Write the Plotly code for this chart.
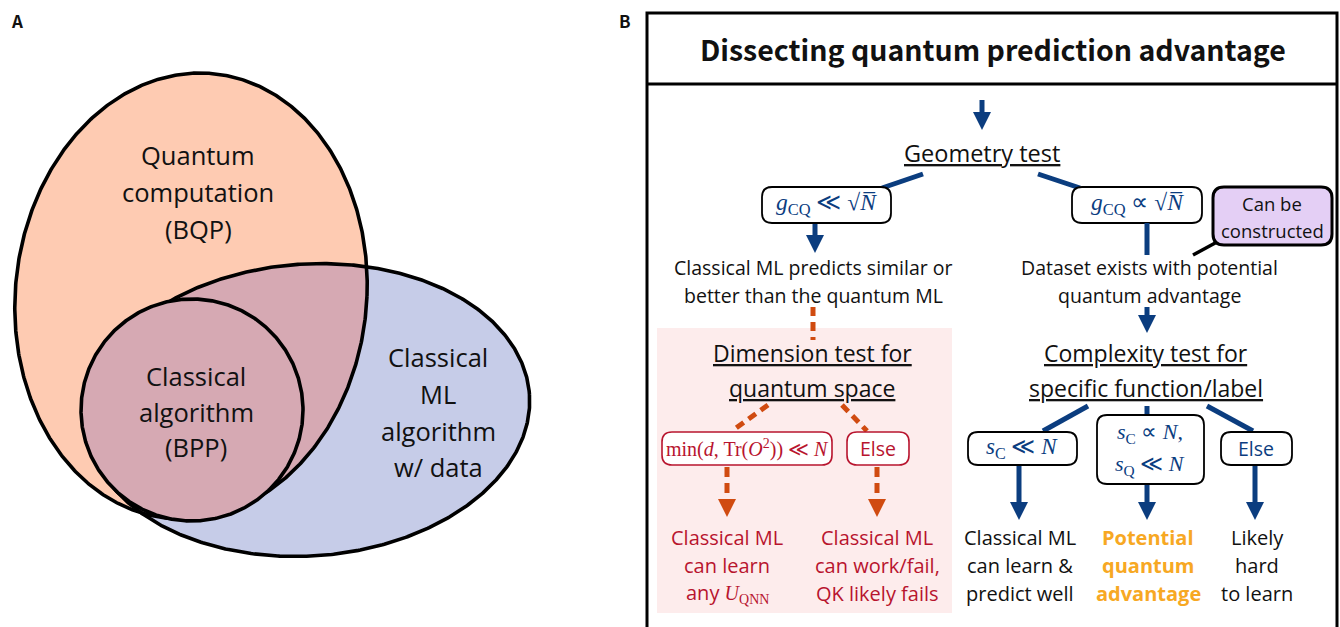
import numpy as np
import plotly.graph_objects as go

W, H = 1340, 627
BODY = "Open Sans"
MATH = "Liberation Serif"
TITLE_FONT = "Noto Sans CJK JP"

NAVY = "#0B3D7F"
RED = "#B8142E"
DASHC = "#D04B10"
GOLD = "#F7A823"
PINK = "#FDECEC"
PURPLE = "#E4CFF5"
PEACH = "#FECBB2"
BLUE = "#C6CCE8"
MAUVE = "#D6A9B3"
INK = "#111111"

# ---------------- content (text) ----------------
panel_labels = ["A", "B"]
title_text = "Dissecting quantum prediction advantage"

venn_quantum = ["Quantum", "computation", "(BQP)"]
venn_classical = ["Classical", "algorithm", "(BPP)"]
venn_ml = ["Classical", "ML", "algorithm", "w/ data"]

geometry_title = ["Geometry test"]
geom_left_cond = "<i>g</i><sub>CQ</sub> ≪ √<i>N̅</i>"
geom_right_cond = "<i>g</i><sub>CQ</sub> ∝ √<i>N̅</i>"
constructed_note = ["Can be", "constructed"]
geom_left_result = ["Classical ML predicts similar or", "better than the quantum ML"]
geom_right_result = ["Dataset exists with potential", "quantum advantage"]

dimension_title = ["Dimension test for", "quantum space"]
dim_left_cond = "min(<i>d</i>, Tr(<i>O</i><sup>2</sup>)) ≪ <i>N</i>"
dim_right_cond = "Else"
dim_left_result = ["Classical ML", "can learn",
                   "any <span style='font-family:Liberation Serif'><i>U</i><sub>QNN</sub></span>"]
dim_right_result = ["Classical ML", "can work/fail,", "QK likely fails"]

complexity_title = ["Complexity test for", "specific function/label"]
cx_conds = ["<i>s</i><sub>C</sub> ≪ <i>N</i>",
            "<i>s</i><sub>C</sub> ∝ <i>N</i>,",
            "Else"]
cx_cond_mid2 = "<i>s</i><sub>Q</sub> ≪ <i>N</i>"
cx_results = [["Classical ML", "can learn &", "predict well"],
              ["Potential", "quantum", "advantage"],
              ["Likely", "hard", "to learn"]]

# ---------------- geometry of the diagram ----------------
orange_ell = dict(cx=191, cy=296, a=176, b=223, k=-0.04)
blue_ell = dict(cx=308, cy=410, a=222, b=146, phi=-4.0)
circle = dict(cx=192, cy=410, r=111)

t = np.linspace(0, 2 * np.pi, 721)


def orange_pts(tt):
    e = orange_ell
    return (e["cx"] + e["a"] * np.cos(tt) + e["k"] * e["b"] * np.sin(tt),
            e["cy"] + e["b"] * np.sin(tt))


def orange_in(x, y):
    e = orange_ell
    s = (y - e["cy"]) / e["b"]
    c = (x - e["cx"] - e["k"] * (y - e["cy"])) / e["a"]
    return c * c + s * s <= 1.0


def blue_pts(tt):
    e = blue_ell
    p = np.radians(e["phi"])
    u, v = e["a"] * np.cos(tt), e["b"] * np.sin(tt)
    return (e["cx"] + u * np.cos(p) - v * np.sin(p),
            e["cy"] + u * np.sin(p) + v * np.cos(p))


def blue_in(x, y):
    e = blue_ell
    p = np.radians(e["phi"])
    dx, dy = x - e["cx"], y - e["cy"]
    u = dx * np.cos(p) + dy * np.sin(p)
    v = -dx * np.sin(p) + dy * np.cos(p)
    return (u / e["a"]) ** 2 + (v / e["b"]) ** 2 <= 1.0


ox, oy = orange_pts(t)
bx, by = blue_pts(t)
cxp = circle["cx"] + circle["r"] * np.cos(t)
cyp = circle["cy"] + circle["r"] * np.sin(t)

# intersection polygon (convex)
m1 = blue_in(ox, oy)
m2 = orange_in(bx, by)
ix = np.concatenate([ox[m1], bx[m2]])
iy = np.concatenate([oy[m1], by[m2]])
ang = np.arctan2(iy - iy.mean(), ix - ix.mean())
order = np.argsort(ang)
ix, iy = ix[order], iy[order]
ix = np.append(ix, ix[0])
iy = np.append(iy, iy[0])

fig = go.Figure()
common = dict(mode="lines", hoverinfo="skip", showlegend=False)
fig.add_trace(go.Scatter(x=ox, y=oy, fill="toself", fillcolor=PEACH, line=dict(width=0), **common))
fig.add_trace(go.Scatter(x=bx, y=by, fill="toself", fillcolor=BLUE, line=dict(width=0), **common))
fig.add_trace(go.Scatter(x=ix, y=iy, fill="toself", fillcolor=MAUVE, line=dict(width=0), **common))
for xx, yy in [(ox, oy), (bx, by)]:
    fig.add_trace(go.Scatter(x=xx, y=yy, line=dict(color="#000000", width=3.6), **common))
fig.add_trace(go.Scatter(x=cxp, y=cyp, fill="toself", fillcolor=MAUVE,
                         line=dict(color="#000000", width=3.6), **common))

shapes = []
annotations = []


def text(x, y, s, size=18, color=INK, family=BODY, bold=False):
    annotations.append(dict(x=x, y=y, xref="x", yref="y", text=s, showarrow=False,
                            xanchor="center", yanchor="middle",
                            font=dict(size=size, color=color, family=family,
                                      weight="bold" if bold else "normal")))


def lines_block(x, ys, lines, **kw):
    for yy, s in zip(ys, lines):
        text(x, yy, s, **kw)


def seg(x0, y0, x1, y1, color=NAVY, width=5, dash=None):
    ln = dict(color=color, width=width)
    if dash:
        ln["dash"] = dash
    shapes.append(dict(type="line", x0=x0, y0=y0, x1=x1, y1=y1, xref="x", yref="y", line=ln))


def arrow(x, y0, ytip, color=NAVY, dash=None, hw=9, hh=18):
    seg(x, y0, x, ytip - hh + 2, color=color, dash=dash)
    shapes.append(dict(type="path", xref="x", yref="y",
                       path=f"M {x-hw},{ytip-hh} L {x+hw},{ytip-hh} L {x},{ytip} Z",
                       fillcolor=color, line=dict(width=0)))


def rrect(x0, y0, x1, y1, r=10, line_color="#000000", width=1.8, fill="#FFFFFF"):
    p = (f"M {x0+r},{y0} L {x1-r},{y0} Q {x1},{y0} {x1},{y0+r} L {x1},{y1-r} "
         f"Q {x1},{y1} {x1-r},{y1} L {x0+r},{y1} Q {x0},{y1} {x0},{y1-r} "
         f"L {x0},{y0+r} Q {x0},{y0} {x0+r},{y0} Z")
    shapes.append(dict(type="path", path=p, xref="x", yref="y", fillcolor=fill,
                       line=dict(color=line_color, width=width)))


# ---------------- panel A texts ----------------
text(17, 20, panel_labels[0], size=17, bold=True, family=TITLE_FONT)
lines_block(198, [155, 192, 229], venn_quantum, size=25.5)
lines_block(196, [376, 412, 447], venn_classical, size=25.5)
lines_block(438, [357, 394, 431, 467], venn_ml, size=25.5)

# ---------------- panel B ----------------
text(625, 20, panel_labels[1], size=17, bold=True, family=TITLE_FONT)
shapes.append(dict(type="path", xref="x", yref="y",
                   path="M 647,640 L 647,13 L 1337,13 L 1337,640",
                   line=dict(color="#000000", width=3)))
seg(647, 84, 1337, 84, color="#000000", width=3)
text(993, 48, title_text, size=28.5, bold=True, family=TITLE_FONT)

# pink background
shapes.append(dict(type="rect", x0=657, y0=328, x1=952, y1=613, xref="x", yref="y",
                   fillcolor=PINK, line=dict(width=0), layer="below"))

# geometry test
arrow(982, 100, 130)
lines_block(982, [153], ["<u>" + geometry_title[0] + "</u>"], size=23.5)
seg(923, 174, 882, 188)
seg(1038, 174, 1080, 188)
rrect(762, 187, 891, 223, r=10)
text(826, 204, geom_left_cond, size=23.5, color=NAVY, family=MATH)
rrect(1072, 187, 1202, 223, r=10)
text(1137, 204, geom_right_cond, size=23.5, color=NAVY, family=MATH)
rrect(1213, 187, 1332, 245, r=11, width=3, fill=PURPLE)
lines_block(1272, [203, 230], constructed_note, size=18.5)
seg(1193, 255, 1217, 242, color="#000000", width=3.5)

arrow(815, 224, 253)
seg(1147, 223, 1147, 255)
lines_block(813, [267, 295], geom_left_result, size=19.5)
lines_block(1149, [267, 295], geom_right_result, size=19.5)

# dimension test (left)
DASH = "9px,6px"
seg(813, 307, 813, 340, color=DASHC, dash=DASH)
lines_block(812, [353, 388], ["<u>" + s + "</u>" for s in dimension_title], size=23)
seg(768, 405, 732, 431, color=DASHC, dash=DASH)
seg(842, 405, 867, 431, color=DASHC, dash=DASH)
rrect(662, 432, 832, 465, r=10, line_color=RED, width=1.6)
text(747, 448, dim_left_cond, size=20, color=RED, family=MATH)
rrect(847, 432, 909, 465, r=10, line_color=RED, width=1.6)
text(878, 448, dim_right_cond, size=19.5, color=RED)
arrow(727, 467, 517, color=DASHC, dash="10px,6px", hw=9, hh=18)
arrow(877, 467, 517, color=DASHC, dash="10px,6px", hw=9, hh=18)
lines_block(727, [537, 565, 593], dim_left_result, size=20, color=RED)
lines_block(877, [537, 565, 593], dim_right_result, size=20, color=RED)

# complexity test (right)
arrow(1147, 307, 333)
lines_block(1146, [353, 388], ["<u>" + s + "</u>" for s in complexity_title], size=23)
seg(1088, 406, 1043, 431)
seg(1147, 406, 1147, 416)
seg(1207, 406, 1253, 431)
rrect(968, 432, 1077, 465, r=10)
text(1022, 448, cx_conds[0], size=23, color=NAVY, family=MATH)
rrect(1097, 415, 1204, 484, r=10)
text(1150, 433, cx_conds[1], size=22, color=NAVY, family=MATH)
text(1150, 465, cx_cond_mid2, size=22, color=NAVY, family=MATH)
rrect(1221, 432, 1292, 465, r=10)
text(1256, 448, cx_conds[2], size=19.5, color=NAVY)
arrow(1019, 466, 520)
arrow(1147, 485, 520)
arrow(1255, 466, 520)
lines_block(1020, [537, 565, 593], cx_results[0], size=20)
lines_block(1148, [537, 565, 593], cx_results[1], size=20, color=GOLD, bold=True)
lines_block(1257, [537, 565, 593], cx_results[2], size=20)

fig.update_layout(
    width=W, height=H, autosize=False,
    margin=dict(l=0, r=0, t=0, b=0),
    paper_bgcolor="#FFFFFF", plot_bgcolor="#FFFFFF",
    xaxis=dict(range=[0, W], visible=False, fixedrange=True),
    yaxis=dict(range=[H, 0], visible=False, fixedrange=True),
    shapes=shapes, annotations=annotations, showlegend=False,
)
fig.write_html("out.html", config={"displayModeBar": False},
               post_script="document.body.style.margin='0px';document.body.style.padding='0px';")
